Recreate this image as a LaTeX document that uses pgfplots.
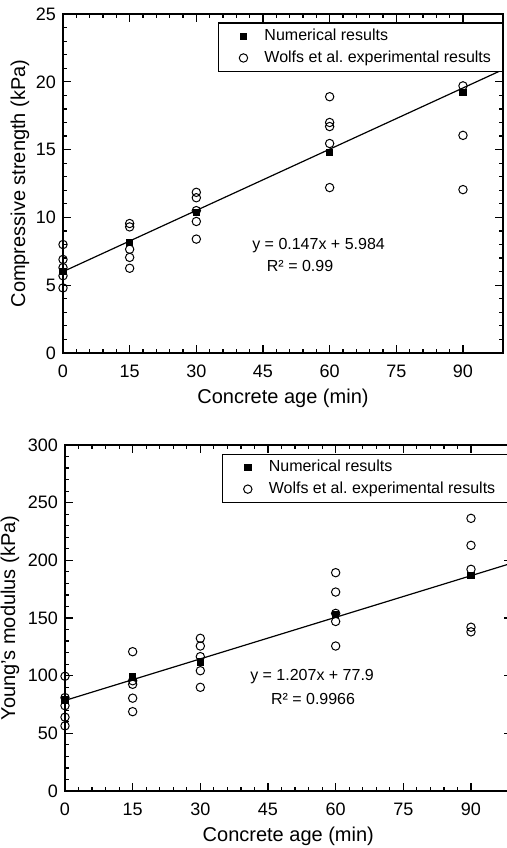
\documentclass[border=0pt]{standalone}
\usepackage{fontspec}
\setmainfont{Liberation Sans}
\usepackage{pgfplots}
\pgfplotsset{compat=1.18}

\pgfplotsset{
  agestyle/.style={
    scale only axis,
    anchor=north west,
    xmin=0, xmax=99,
    xtick={0,15,...,90},
    minor x tick num=4,
    minor y tick num=4,
    tick align=inside,
    major tick length=4pt,
    minor tick length=2pt,
    axis line style={line width=0.75pt},
    every tick/.style={line width=0.6pt, black},
    /pgf/number format/assume math mode=true,
    ticklabel style={font=\fontsize{9}{10}\selectfont},
    xticklabel style={anchor=base, yshift=-12pt},
    label style={font=\fontsize{10}{12}\selectfont},
    xlabel={Concrete age (min)},
    xlabel style={at={(axis description cs:0.5,0)}, anchor=base, yshift=-25pt},
    legend cell align=left,
    legend style={at={(0.352,0.975)}, anchor=north west, draw=black,
      line width=0.6pt, font=\fontsize{8}{9.6}\selectfont,
      inner xsep=4pt, inner ysep=1pt, row sep=-0.5pt},
    clip=false,
  },
  % one mark in the middle of a 17pt wide legend image, no line
  markimg/.style={legend image code/.code={
    \path (0pt,0pt) (17pt,0pt);
    \draw[##1] plot coordinates {(8.5pt,0pt)};}},
  numstyle/.style={draw=none, mark=square*, mark size=1.6pt,
    mark options={draw=black, fill=black}, markimg},
  expstyle/.style={draw=none, mark=o, mark size=2.1pt,
    mark options={draw=black, fill=none, line width=0.5pt}, markimg},
}

\begin{document}
\begin{tikzpicture}
\useasboundingbox (0,0) rectangle (253.5pt,-424pt);

% compressive strength
\begin{axis}[agestyle,
  at={(31.5pt,-7pt)}, width=220pt, height=169.5pt,
  ymin=0, ymax=25, ytick={0,5,...,25},
  ylabel={Compressive strength (kPa)},
  ylabel style={at={(axis description cs:0,0.5)}, anchor=center, yshift=21.5pt}]
\addplot[black, line width=0.6pt, forget plot] coordinates {(0,6.0) (99,20.9)};
\addplot[numstyle] coordinates {
  (0,6.0) (15,8.16) (30,10.37) (60,14.8) (90,19.22)};
\addlegendentry{Numerical results}
\addplot[expstyle] coordinates {
  (0,8.0) (0,6.9) (0,6.3) (0,5.7) (0,4.8)
  (15,9.55) (15,9.3) (15,7.65) (15,7.05) (15,6.25)
  (30,11.85) (30,11.45) (30,10.5) (30,9.7) (30,8.4)
  (60,18.9) (60,17.0) (60,16.7) (60,15.45) (60,12.2)
  (90,19.7) (90,16.05) (90,12.05)};
\addlegendentry{Wolfs et al.\ experimental results}
\node[anchor=west, font=\fontsize{8}{9.6}\selectfont] at (axis cs:41,7.9) {y = 0.147x + 5.984};
\node[anchor=west, font=\fontsize{8}{9.6}\selectfont] at (axis cs:44.3,6.4) {R² = 0.99};
\end{axis}

% Young's modulus
\begin{axis}[agestyle,
  at={(32.5pt,-222.5pt)}, width=223.3pt, height=173pt,
  ymin=0, ymax=300, ytick={0,50,...,300},
  ylabel={Young's modulus (kPa)},
  ylabel style={at={(axis description cs:0,0.5)}, anchor=center, yshift=27.5pt}]
\addplot[black, line width=0.6pt, forget plot] coordinates {(0,78.5) (99,197.5)};
\addplot[numstyle] coordinates {
  (0,78.9) (15,99.1) (30,112.1) (60,153.3) (90,186.7)};
\addlegendentry{Numerical results}
\addplot[expstyle] coordinates {
  (0,99.5) (0,81) (0,74) (0,64) (0,56.5)
  (15,120.8) (15,95.6) (15,92.5) (15,80.5) (15,68.8)
  (30,132.4) (30,125.7) (30,116.5) (30,104.3) (30,89.9)
  (60,189.3) (60,172.5) (60,154) (60,147) (60,125.7)
  (90,236.4) (90,213) (90,192.2) (90,142) (90,138)};
\addlegendentry{Wolfs et al.\ experimental results}
\node[anchor=west, font=\fontsize{8}{9.6}\selectfont] at (axis cs:39.5,98.8) {y = 1.207x + 77.9};
\node[anchor=west, font=\fontsize{8}{9.6}\selectfont] at (axis cs:44.1,79.8) {R² = 0.9966};
\end{axis}
\end{tikzpicture}
\end{document}
